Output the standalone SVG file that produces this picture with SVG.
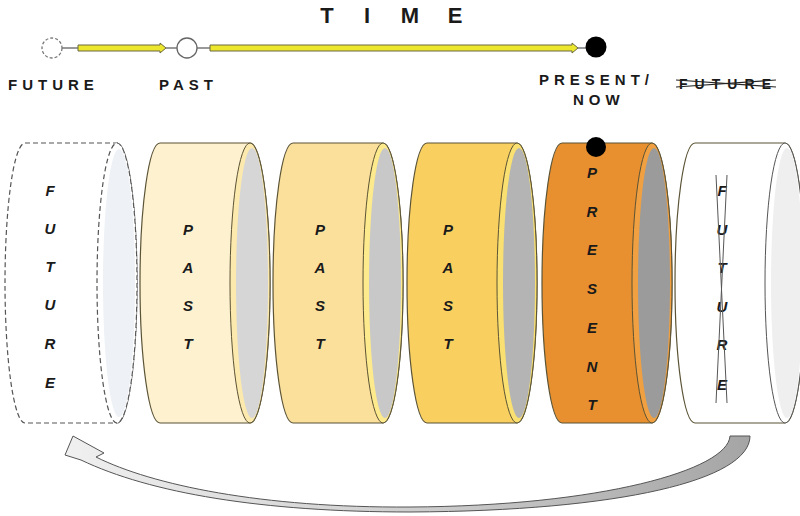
<svg xmlns="http://www.w3.org/2000/svg" width="800" height="516" viewBox="0 0 800 516">
<style>
  .lbl{font-family:"Liberation Sans",Arial,sans-serif;font-weight:bold;fill:#1a1a1a}
  .top{font-size:15px;letter-spacing:5px}
  .time{font-size:22px;text-anchor:middle}
  .v{font-family:"Liberation Sans",Arial,sans-serif;font-weight:bold;font-style:italic;font-size:15px;text-anchor:middle;fill:#1a1a1a}
  .body{stroke:#5b5335;stroke-width:1.2}
  .face{stroke:#5b5335;stroke-width:1}
  .yel{fill:#ECE62C;stroke:#6a6940;stroke-width:1}
  .gl{stroke:#777;stroke-width:1.5}
</style>
<defs>
  <linearGradient id="arrGrad" x1="1" y1="0" x2="0" y2="0">
    <stop offset="0" stop-color="#a5a5a5"/>
    <stop offset="0.5" stop-color="#cfcfcf"/>
    <stop offset="1" stop-color="#f0f0f0"/>
  </linearGradient>
</defs>
<rect width="800" height="516" fill="#ffffff"/>

<!-- Timeline -->
<g id="time-title">
  <text class="lbl time" x="327" y="23">T</text>
  <text class="lbl time" x="367" y="23">I</text>
  <text class="lbl time" x="410" y="23">M</text>
  <text class="lbl time" x="455" y="23">E</text>
</g>
<g id="connectors">
  <line class="gl" x1="62" y1="48" x2="78" y2="48"/>
  <line class="gl" x1="166" y1="48" x2="177" y2="48"/>
  <line class="gl" x1="197" y1="48" x2="210" y2="48"/>
  <line class="gl" x1="578" y1="48" x2="586" y2="48"/>
  <path class="yel" d="M78,45 L160,45 L160,43 L166,48 L160,53 L160,51 L78,51 Z"/>
  <path class="yel" d="M210,45 L572,45 L572,43 L578,48 L572,53 L572,51 L210,51 Z"/>
  <path d="M750,436 L730,436 C728,470 600,506 410,507 C262,508 152,485 96,457 L104,453 L73,436 L65,455 L81,460 C150,493 262,512 410,512 C620,511 750,480 750,436 Z" fill="url(#arrGrad)" stroke="#555" stroke-width="1"/>
</g>
<g id="node-future-point">
  <circle cx="52" cy="48" r="10" fill="#fff" stroke="#777" stroke-width="1.3" stroke-dasharray="3,2"/>
  <text class="lbl top" x="8" y="90">FUTURE</text>
</g>
<g id="node-past-point">
  <circle cx="187" cy="48" r="10" fill="#fff" stroke="#666" stroke-width="1.3"/>
  <text class="lbl top" x="159" y="90">PAST</text>
</g>
<g id="node-present-point">
  <circle cx="596" cy="47" r="10.5" fill="#000"/>
  <text class="lbl top" x="539" y="85">PRESENT/</text>
  <text class="lbl top" x="573" y="105">NOW</text>
</g>
<g id="node-future-struck">
  <text class="lbl" x="679" y="89" style="font-size:14px" textLength="92" lengthAdjust="spacing">FUTURE</text>
  <line x1="676" y1="80" x2="776" y2="87" stroke="#222" stroke-width="1.2"/>
  <line x1="676" y1="87" x2="776" y2="80" stroke="#222" stroke-width="1.2"/>
</g>

<!-- Cylinders -->
<g id="cyl-future-dashed">
  <path d="M25,143 L117,143 A20,140 0 0 1 117,423 L25,423 A20,140 0 0 1 25,143 Z" fill="#fff" stroke="#555" stroke-width="1.2" stroke-dasharray="5,3"/>
  <ellipse cx="117" cy="283" rx="20" ry="140" fill="#fff" stroke="#555" stroke-width="1.2" stroke-dasharray="5,3"/>
  <ellipse cx="119" cy="283" rx="16" ry="134" fill="#EEF1F5"/>
  <text class="v" x="50" y="196">F</text>
  <text class="v" x="50" y="234">U</text>
  <text class="v" x="50" y="272">T</text>
  <text class="v" x="50" y="310">U</text>
  <text class="v" x="50" y="349">R</text>
  <text class="v" x="50" y="388">E</text>
</g>
<g id="cyl-past-1">
  <path class="body" d="M160,143 L250,143 A20,140 0 0 1 250,423 L160,423 A20,140 0 0 1 160,143 Z" fill="#FDF1D0"/>
  <ellipse class="face" cx="250" cy="283" rx="20" ry="140" fill="#FCE9AE"/>
  <ellipse cx="252" cy="283" rx="16" ry="135" fill="#D6D6D6"/>
  <text class="v" x="188" y="235">P</text>
  <text class="v" x="188" y="273">A</text>
  <text class="v" x="188" y="311">S</text>
  <text class="v" x="188" y="349">T</text>
</g>
<g id="cyl-past-2">
  <path class="body" d="M293,143 L383,143 A20,140 0 0 1 383,423 L293,423 A20,140 0 0 1 293,143 Z" fill="#FBE09C"/>
  <ellipse class="face" cx="383" cy="283" rx="20" ry="140" fill="#FDEA8C"/>
  <ellipse cx="385" cy="283" rx="16" ry="135" fill="#C8C8C8"/>
  <text class="v" x="320" y="235">P</text>
  <text class="v" x="320" y="273">A</text>
  <text class="v" x="320" y="311">S</text>
  <text class="v" x="320" y="349">T</text>
</g>
<g id="cyl-past-3">
  <path class="body" d="M427,143 L517,143 A20,140 0 0 1 517,423 L427,423 A20,140 0 0 1 427,143 Z" fill="#F9D060"/>
  <ellipse class="face" cx="517" cy="283" rx="20" ry="140" fill="#F9E070"/>
  <ellipse cx="519" cy="283" rx="16" ry="135" fill="#B4B4B4"/>
  <text class="v" x="448" y="235">P</text>
  <text class="v" x="448" y="273">A</text>
  <text class="v" x="448" y="311">S</text>
  <text class="v" x="448" y="349">T</text>
</g>
<g id="cyl-present">
  <path class="body" d="M562,143 L652,143 A20,140 0 0 1 652,423 L562,423 A20,140 0 0 1 562,143 Z" fill="#E8902F"/>
  <ellipse class="face" cx="652" cy="283" rx="20" ry="140" fill="#F0A040"/>
  <ellipse cx="654" cy="283" rx="16" ry="135" fill="#9B9B9B"/>
  <circle cx="596" cy="147" r="10" fill="#000"/>
  <text class="v" x="592" y="178">P</text>
  <text class="v" x="592" y="217">R</text>
  <text class="v" x="592" y="255">E</text>
  <text class="v" x="592" y="294">S</text>
  <text class="v" x="592" y="333">E</text>
  <text class="v" x="592" y="372">N</text>
  <text class="v" x="592" y="410">T</text>
</g>
<g id="cyl-future">
  <path class="body" d="M695,143 L785,143 A20,140 0 0 1 785,423 L695,423 A20,140 0 0 1 695,143 Z" fill="#fff" stroke="#555"/>
  <ellipse cx="785" cy="283" rx="20" ry="140" fill="#fff" stroke="#555" stroke-width="1"/>
  <ellipse cx="787" cy="283" rx="16" ry="135" fill="#EFEFEF"/>
  <text class="v" x="722" y="196">F</text>
  <text class="v" x="722" y="235">U</text>
  <text class="v" x="722" y="273">T</text>
  <text class="v" x="722" y="312">U</text>
  <text class="v" x="722" y="350">R</text>
  <text class="v" x="722" y="390">E</text>
  <line x1="716" y1="175" x2="727" y2="403" stroke="#555" stroke-width="1"/>
  <line x1="727" y1="175" x2="716" y2="403" stroke="#555" stroke-width="1"/>
</g>
</svg>
